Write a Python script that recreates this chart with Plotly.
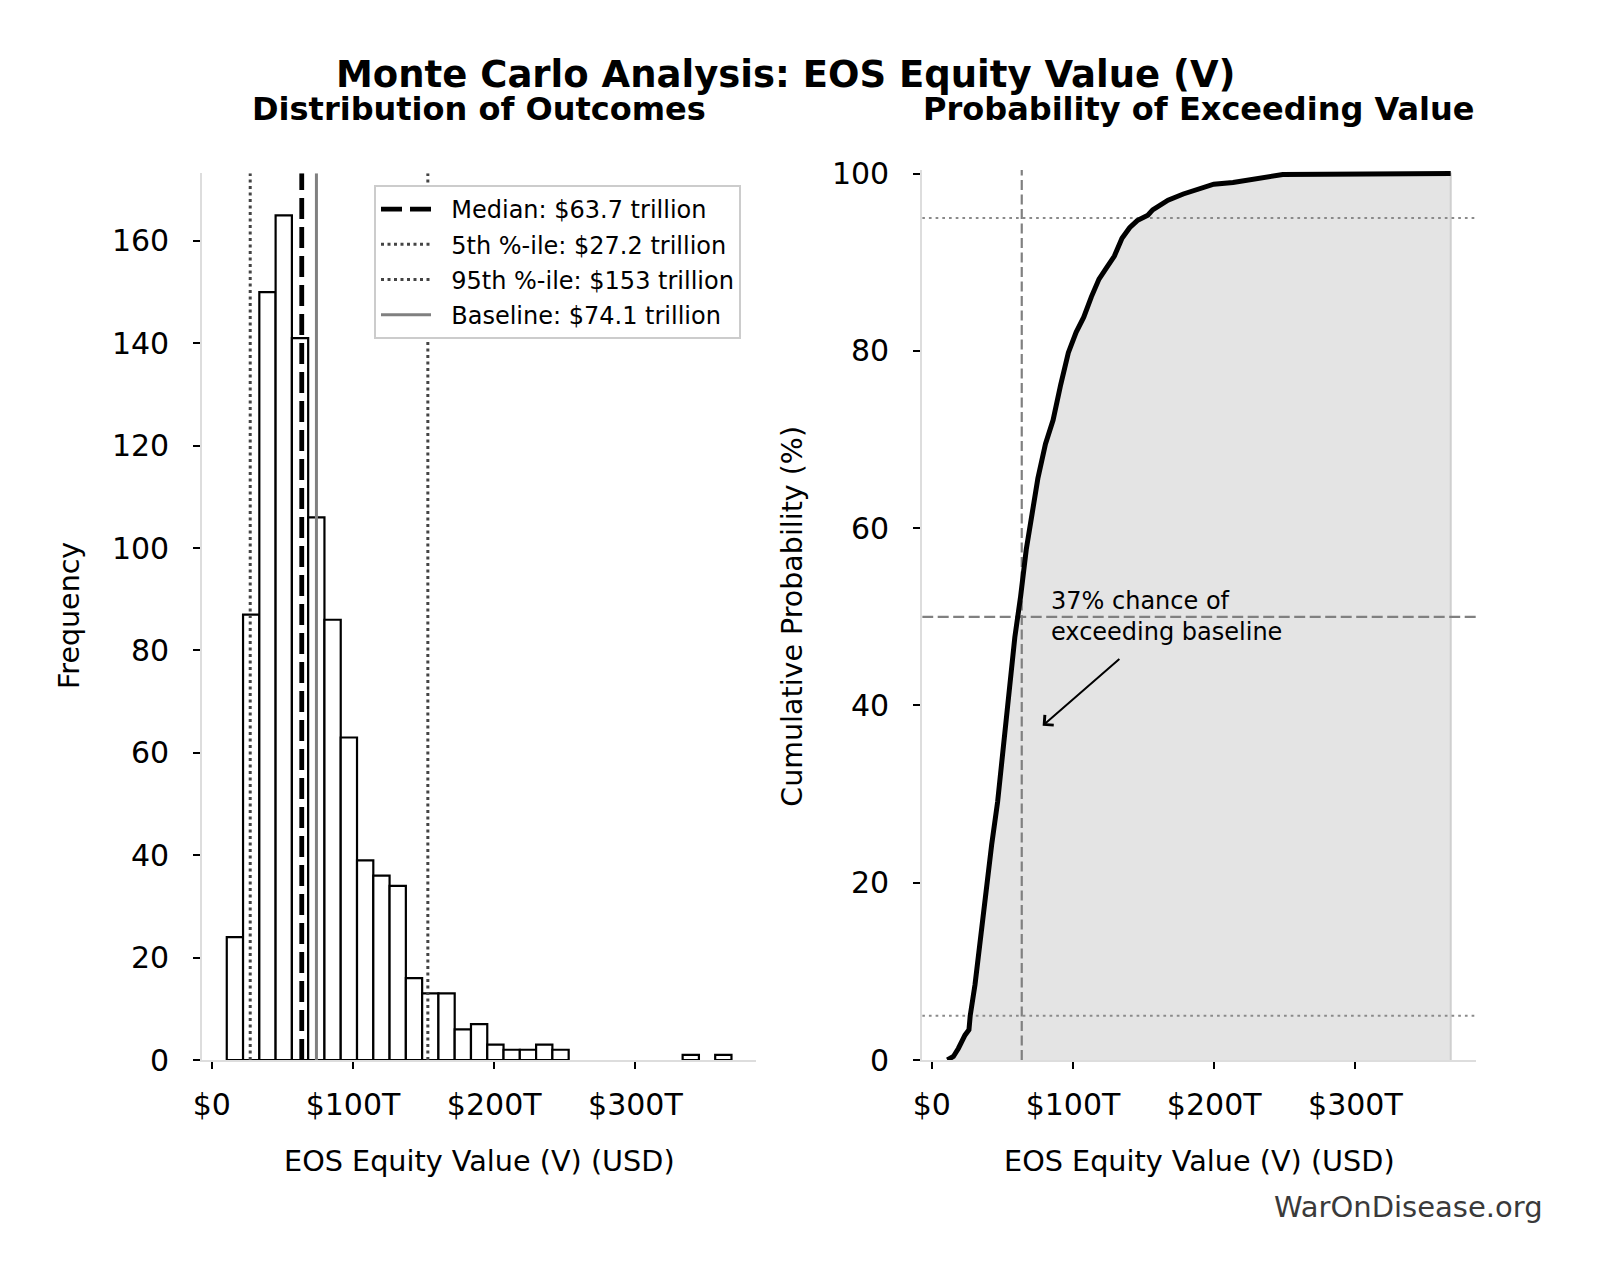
import plotly.graph_objects as go

# ---------------- data ----------------
# Histogram of 1000 Monte Carlo outcomes (values in $ trillions)
bin_start_T = 10.6
bin_width_T = 11.53
counts = [24, 87, 150, 165, 141, 106, 86, 63, 39, 36, 34, 16, 13, 13, 6, 7,
          3, 2, 2, 3, 2, 0, 0, 0, 0, 0, 0, 0, 1, 0, 1]

median_T = 63.7
p5_T = 27.2
p95_T = 153
baseline_T = 74.1
legend_labels = ["Median: $63.7 trillion", "5th %-ile: $27.2 trillion",
                 "95th %-ile: $153 trillion", "Baseline: $74.1 trillion"]

# Empirical cumulative distribution (value in $T, cumulative %)
cdf_x = [11.0, 15.3, 18.8, 21.2, 23.5, 26.3, 27.2, 30.6, 34.1, 37.6, 42.4, 46.6,
         50.7, 54.7, 58.8, 62.9, 66.9, 71.0, 75.1, 80.5, 85.9, 91.3, 96.7, 102.2,
         107.6, 113.0, 118.4, 123.8, 129.3, 134.7, 140.1, 145.5, 153.0, 156.4,
         167.3, 178.1, 188.9, 199.7, 213.3, 226.8, 243.1, 248.5, 367.5]
cdf_y = [0, 0.4, 1.3, 2.2, 2.8, 3.4, 5.0, 8.5, 13.4, 18.8, 24.3, 29.1,
         35.8, 41.7, 47.7, 52.3, 57.6, 61.6, 65.6, 69.5, 72.2, 76.2, 79.8, 82.1,
         83.8, 86.1, 88.1, 89.4, 90.7, 92.7, 93.9, 94.7, 95.3, 95.9,
         97.0, 97.7, 98.3, 98.8, 99.0, 99.3, 99.8, 99.9, 100]
pct_lines = [5, 50, 95]

x_tickvals = [0, 100, 200, 300]
x_ticktext = ["$0", "$100T", "$200T", "$300T"]
y1_tickvals = [0, 20, 40, 60, 80, 100, 120, 140, 160]
y2_tickvals = [0, 20, 40, 60, 80, 100]

# ---------------- layout helpers ----------------
W, H = 1601, 1280
FONT = "DejaVu Sans"
NBSP = "\u00a0"


def fx(p):
    return p / W


def fy(p):
    return 1 - p / H


x_range = [-6.8, 385.4]
y1_range = [0, 173.25]
y2_range = [0, 100.4]

fig = go.Figure()

# ---- left: histogram ----
centers = [bin_start_T + (i + 0.5) * bin_width_T for i in range(len(counts))]
nz = [i for i, c in enumerate(counts) if c > 0]
fig.add_trace(go.Bar(
    x=[centers[i] for i in nz], y=[counts[i] for i in nz], width=bin_width_T,
    marker=dict(color="white", line=dict(color="black", width=2.2)),
    showlegend=False, xaxis="x", yaxis="y", hoverinfo="x+y"))

line_styles = [
    dict(color="black", width=4.8, dash="21px,8px"),
    dict(color="#444444", width=3, dash="3px,3.5px"),
    dict(color="#444444", width=3, dash="3px,3.5px"),
    dict(color="#808080", width=3),
]
for lbl, val, st in zip(legend_labels, [median_T, p5_T, p95_T, baseline_T], line_styles):
    fig.add_trace(go.Scatter(
        x=[val, val], y=y1_range, mode="lines", line=st, name=NBSP * 2 + lbl,
        legendgroup=lbl, xaxis="x", yaxis="y"))

# ---- right: CDF ----
fig.add_trace(go.Scatter(
    x=cdf_x + [cdf_x[-1]], y=cdf_y + [0], mode="lines", fill="tozeroy",
    fillcolor="#e4e4e4", line=dict(color="#cfcfcf", width=2),
    showlegend=False, xaxis="x2", yaxis="y2", hoverinfo="skip"))

for p in pct_lines:
    st = dict(color="#808080", width=2.2, dash="11px,4.5px") if p == 50 else \
        dict(color="#8a8a8a", width=2, dash="2.7px,4px")
    fig.add_trace(go.Scatter(x=x_range, y=[p, p], mode="lines", line=st,
                             showlegend=False, xaxis="x2", yaxis="y2", hoverinfo="skip"))
fig.add_trace(go.Scatter(x=[median_T, median_T], y=y2_range, mode="lines",
                         line=dict(color="#808080", width=2.2, dash="10px,4.5px"),
                         showlegend=False, xaxis="x2", yaxis="y2", hoverinfo="skip"))

fig.add_trace(go.Scatter(x=cdf_x, y=cdf_y, mode="lines",
                         line=dict(color="black", width=5),
                         showlegend=False, xaxis="x2", yaxis="y2"))

# ---------------- axes ----------------
axis_common = dict(showgrid=False, zeroline=False, showline=True, linecolor="#dddddd",
                   linewidth=2, ticks="outside", ticklen=7, tickwidth=2, tickcolor="black",
                   tickfont=dict(family=FONT, size=30, color="black"), fixedrange=True,
                   automargin=False)

fig.update_layout(
    width=W, height=H, margin=dict(l=0, r=0, t=0, b=0, pad=0, autoexpand=False),
    paper_bgcolor="white", plot_bgcolor="white",
    font=dict(family=FONT, color="black"),
    xaxis=dict(domain=[fx(202.2), fx(756)], range=x_range, anchor="y",
               tickvals=x_tickvals, ticktext=x_ticktext, ticklabelstandoff=10, **axis_common),
    yaxis=dict(domain=[fy(1060), fy(1060 - 173.25 * 5.119)], range=y1_range, anchor="x",
               tickvals=y1_tickvals, ticklabelstandoff=18, **axis_common),
    xaxis2=dict(domain=[fx(922.2), fx(1476)], range=x_range, anchor="y2",
                tickvals=x_tickvals, ticktext=x_ticktext, ticklabelstandoff=10, **axis_common),
    yaxis2=dict(domain=[fy(1060), fy(1060 - 100.4 * 8.864)], range=y2_range, anchor="x2",
                tickvals=y2_tickvals, ticklabelstandoff=18, **axis_common),
    showlegend=True,
    legend=dict(x=fx(374), y=fy(185), xanchor="left", yanchor="top",
                bgcolor="white", bordercolor="#cccccc", borderwidth=2,
                font=dict(family=FONT, size=24, color="black"),
                traceorder="grouped", tracegroupgap=1, itemwidth=50),
)

ann = []


def text_ann(txt, x, y, size, bold=False, angle=0, xanchor="center", color="black"):
    ann.append(dict(text=txt, x=fx(x), y=fy(y), xref="paper", yref="paper",
                    xanchor=xanchor, yanchor="middle", showarrow=False, textangle=angle,
                    font=dict(family=FONT, size=size, color=color,
                              weight="bold" if bold else "normal")))


text_ann("Monte Carlo Analysis: EOS Equity Value (V)", 785.5, 74, 37, bold=True)
text_ann("Distribution of Outcomes", 479, 109, 32, bold=True)
text_ann("Probability of Exceeding Value", 1199, 109, 32, bold=True)
text_ann("Frequency", 69, 616, 28.5, angle=-90)
text_ann("Cumulative Probability (%)", 791.7, 616, 28.5, angle=-90)
text_ann("EOS Equity Value (V) (USD)", 479, 1161, 28.7)
text_ann("EOS Equity Value (V) (USD)", 1199, 1161, 28.7)
text_ann("WarOnDisease.org", 1545, 1207, 29, xanchor="right", color="#3a3a3a")

ann.append(dict(text="37% chance of<br>exceeding baseline", x=82.7, y=50, xref="x2", yref="y2",
                xanchor="left", yanchor="middle", align="left", showarrow=False,
                font=dict(family=FONT, size=24, color="black")))
ann.append(dict(text="", x=78.5, y=37.7, xref="x2", yref="y2", ax=133.9, ay=45.4,
                axref="x2", ayref="y2", showarrow=True, arrowhead=4, arrowsize=1.3,
                arrowwidth=2, arrowcolor="black", standoff=0, startstandoff=0))
fig.update_layout(annotations=ann)

fig.write_html("out.html")
